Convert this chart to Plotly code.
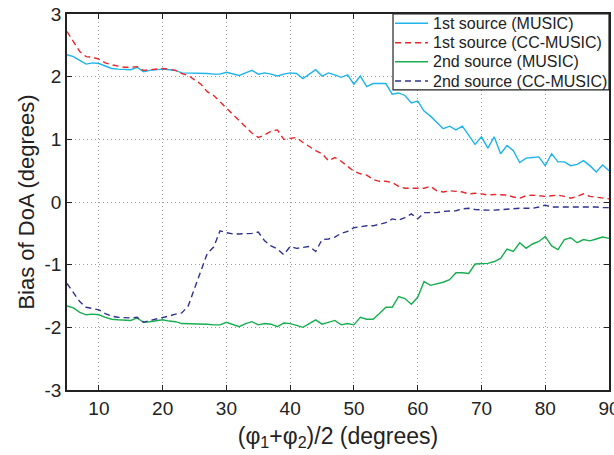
import plotly.graph_objects as go

# Mean angle of the two sources, degrees
angle = list(range(5, 91))

# Bias of the estimated DoA, degrees
src1_music = [2.35, 2.32, 2.26, 2.20, 2.22, 2.21, 2.17, 2.13, 2.12, 2.12,
              2.11, 2.15, 2.08, 2.10, 2.11, 2.12, 2.11, 2.10, 2.06, 2.06,
              2.06, 2.06, 2.05, 2.04, 2.04, 2.07, 2.05, 2.02, 2.06, 2.10,
              2.04, 2.06, 2.04, 2.01, 2.04, 2.06, 2.05, 1.97, 2.04, 2.11,
              2.01, 2.06, 2.03, 1.99, 2.03, 1.88, 2.01, 1.84, 1.89, 1.89,
              1.89, 1.72, 1.74, 1.70, 1.58, 1.61, 1.45, 1.37, 1.27, 1.17,
              1.21, 1.15, 1.21, 1.07, 0.92, 1.04, 0.86, 1.04, 0.77, 0.90,
              0.82, 0.63, 0.70, 0.71, 0.72, 0.58, 0.77, 0.64, 0.64, 0.58,
              0.60, 0.66, 0.58, 0.48, 0.59, 0.50]
src1_cc = [2.72, 2.56, 2.40, 2.32, 2.31, 2.28, 2.22, 2.19, 2.17, 2.15,
           2.15, 2.16, 2.10, 2.11, 2.12, 2.13, 2.12, 2.10, 2.05, 2.02,
           1.95, 1.88, 1.76, 1.70, 1.60, 1.50, 1.40, 1.31, 1.20, 1.10,
           1.03, 1.07, 1.13, 1.15, 1.00, 1.02, 1.03, 0.95, 0.88, 0.82,
           0.77, 0.66, 0.71, 0.65, 0.57, 0.49, 0.45, 0.43, 0.36, 0.33,
           0.33, 0.31, 0.25, 0.22, 0.22, 0.22, 0.22, 0.25, 0.18, 0.16,
           0.18, 0.17, 0.16, 0.13, 0.14, 0.13, 0.11, 0.12, 0.11, 0.11,
           0.08, 0.06, 0.10, 0.11, 0.10, 0.09, 0.10, 0.11, 0.09, 0.06,
           0.09, 0.13, 0.09, 0.08, 0.07, 0.05]
src2_music = [-1.66, -1.69, -1.76, -1.80, -1.79, -1.80, -1.84, -1.87, -1.88, -1.88,
              -1.89, -1.85, -1.92, -1.91, -1.90, -1.88, -1.90, -1.91, -1.94, -1.94,
              -1.94, -1.94, -1.95, -1.96, -1.96, -1.92, -1.96, -1.99, -1.94, -1.91,
              -1.96, -1.94, -1.95, -1.99, -1.93, -1.94, -1.97, -2.00, -1.94, -1.88,
              -1.95, -1.92, -1.89, -1.96, -1.94, -1.96, -1.84, -1.87, -1.87, -1.78,
              -1.68, -1.68, -1.51, -1.54, -1.63, -1.52, -1.27, -1.33, -1.31, -1.28,
              -1.24, -1.13, -1.13, -1.14, -0.99, -0.98, -0.98, -0.95, -0.90, -0.75,
              -0.79, -0.65, -0.74, -0.67, -0.63, -0.55, -0.70, -0.76, -0.60, -0.57,
              -0.65, -0.60, -0.62, -0.59, -0.56, -0.58]
src2_cc = [-1.30, -1.45, -1.59, -1.68, -1.70, -1.72, -1.78, -1.82, -1.84, -1.85,
           -1.85, -1.84, -1.92, -1.89, -1.87, -1.84, -1.82, -1.79, -1.77, -1.66,
           -1.38, -1.10, -0.82, -0.72, -0.46, -0.49, -0.51, -0.51, -0.51, -0.50,
           -0.48, -0.62, -0.70, -0.75, -0.84, -0.71, -0.74, -0.73, -0.71, -0.79,
           -0.60, -0.59, -0.56, -0.50, -0.47, -0.41, -0.39, -0.38, -0.38, -0.36,
           -0.33, -0.27, -0.29, -0.25, -0.19, -0.27, -0.17, -0.17, -0.17, -0.15,
           -0.15, -0.14, -0.11, -0.10, -0.12, -0.13, -0.13, -0.13, -0.12, -0.11,
           -0.10, -0.10, -0.10, -0.10, -0.08, -0.05, -0.08, -0.08, -0.08, -0.08,
           -0.08, -0.08, -0.07, -0.08, -0.09, -0.09]

x_ticks = [10, 20, 30, 40, 50, 60, 70, 80, 90]
y_ticks = [-3, -2, -1, 0, 1, 2, 3]
y_tick_text = ["-3", "-2", "-1", "0", "1", "2", "3"]

series = [
    ("1st source (MUSIC)", src1_music, "#1fb4ea", "solid"),
    ("1st source (CC-MUSIC)", src1_cc, "#e8262b", "6px,4px"),
    ("2nd source (MUSIC)", src2_music, "#17ae4f", "solid"),
    ("2nd source (CC-MUSIC)", src2_cc, "#2e3191", "6px,4px"),
]

font_family = "Liberation Sans, Arial, sans-serif"
ink = "#222"

fig = go.Figure()
for name, vals, color, dash in series:
    fig.add_trace(go.Scatter(
        x=angle, y=vals, mode="lines", name=name, showlegend=False,
        line=dict(color=color, width=1.4, dash=dash),
    ))

# Boxed legend in the upper-right corner of the axes (paper coordinates)
box_x0, box_x1, box_y0, box_y1 = 0.6015, 1.0, 0.798, 1.0
row_y = [0.9753, 0.9237, 0.8731, 0.8218]
sample_x0, sample_x1, text_x = 0.6052, 0.666, 0.6715

shapes = [dict(type="rect", xref="paper", yref="paper",
               x0=box_x0, x1=box_x1, y0=box_y0, y1=box_y1,
               fillcolor="white", line=dict(color=ink, width=1.2), layer="above")]
annotations = []
for (name, _, color, dash), ry in zip(series, row_y):
    shapes.append(dict(type="line", xref="paper", yref="paper",
                       x0=sample_x0, x1=sample_x1, y0=ry, y1=ry,
                       line=dict(color=color, width=1.4, dash=dash), layer="above"))
    annotations.append(dict(xref="paper", yref="paper", x=text_x, y=ry,
                            xanchor="left", yanchor="middle", showarrow=False,
                            text=name, font=dict(size=16, color=ink, family=font_family)))

axis_common = dict(
    showline=True, linecolor=ink, linewidth=1.5, mirror="ticks",
    ticks="inside", ticklen=5, tickcolor=ink, tickwidth=1,
    showgrid=True, gridcolor="#9c9c9c", gridwidth=1, griddash="1px,3px",
    zeroline=False, tickfont=dict(size=19, color=ink, family=font_family),
    ticklabeloverflow="allow", automargin=False,
)

fig.update_layout(
    width=614, height=455,
    margin=dict(l=67, r=5, t=14, b=65, autoexpand=False),
    paper_bgcolor="white", plot_bgcolor="white",
    font=dict(family=font_family, color=ink),
    xaxis=dict(range=[5, 90], tickvals=x_ticks, **axis_common,
               title=dict(text="(φ<sub>1</sub>+φ<sub>2</sub>)/2 (degrees)",
                          font=dict(size=23), standoff=10)),
    yaxis=dict(range=[-3, 3], tickvals=y_ticks, ticktext=y_tick_text, **axis_common,
               title=dict(text="Bias of DoA (degrees)", font=dict(size=22), standoff=4)),
    shapes=shapes,
    annotations=annotations,
    showlegend=False,
)

fig.write_html("out.html")
